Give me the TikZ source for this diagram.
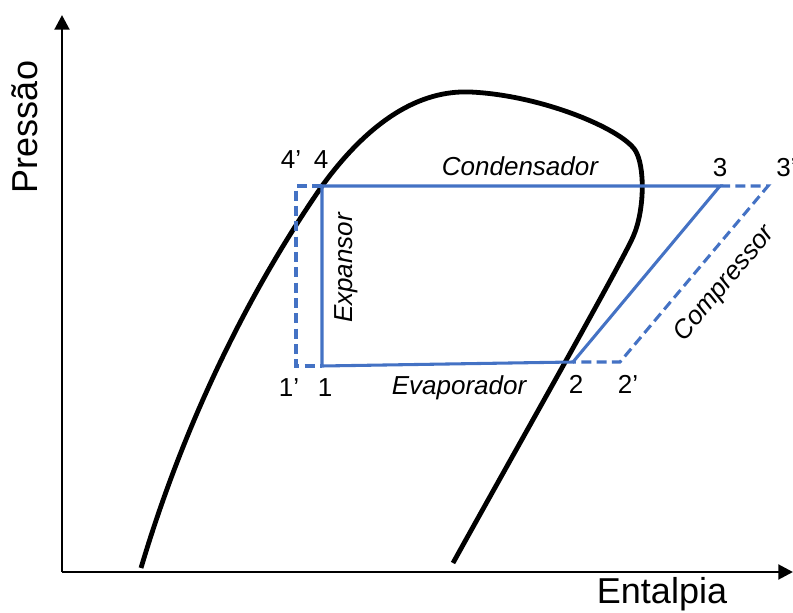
\documentclass[tikz,border=0pt]{standalone}
\usepackage{fontspec}
\setmainfont{Liberation Sans}
\usetikzlibrary{arrows.meta}
\definecolor{cycblue}{HTML}{4472C4}
\tikzset{
  axisline/.style={line width=2.2pt,-{Triangle[length=11pt,width=11pt]}},
  dome/.style={line width=3.6pt,line join=round},
  solidcyc/.style={draw=cycblue,line width=2.3pt,line join=miter},
  dashcyc/.style={draw=cycblue,line width=2.3pt,dash pattern=on 7.5pt off 4pt},
  pointlabel/.style={font=\fontsize{19.5}{22}\selectfont,inner sep=0pt},
  proclabel/.style={font=\fontsize{19.5}{22}\selectfont\itshape,inner sep=0pt},
  axislabel/.style={font=\fontsize{27}{30}\selectfont,inner sep=0pt}
}
\begin{document}
\begin{tikzpicture}[x=0.75pt,y=-0.75pt]
\useasboundingbox (0,0) rectangle (793,613);
% axes
\coordinate (o) at (62,572);
\coordinate (ytip) at (62,15);
\coordinate (xtip) at (793,572);
\draw[axisline] (o) -- (ytip);
\draw[axisline] (o) -- (xtip);
\node[axislabel,rotate=90] (ylab) at (25,127) {Pressão};
\node[axislabel] (xlab) at (662,594) {Entalpia};
% dome
\draw[dome] (141,568) .. controls (185,420) and (250,290) .. (322,186)
  .. controls (370,120) and (420,90) .. (470,92)
  .. controls (540,95) and (620,128) .. (635,150)
  .. controls (645,165) and (645,210) .. (633,237)
  .. controls (620,266) and (510,460) .. (453,563);
% cycle points
\coordinate (p4) at (322,186);
\coordinate (p4p) at (296,186);
\coordinate (p1) at (322,366);
\coordinate (p1p) at (296,366);
\coordinate (p2) at (573,362);
\coordinate (p2p) at (620,362);
\coordinate (p3) at (720,186);
\coordinate (p3p) at (768,186);
% dashed cycle
\draw[dashcyc] (p4) -- (p4p) -- (p1p) -- (p1);
\draw[dashcyc] (p3) -- (p3p) -- (p2p) -- (p2);
% solid cycle
\draw[solidcyc] (p1) -- (p4) -- (p3) -- (p2) -- cycle;
% point labels
\node[pointlabel] (l4p) at (291,160) {4’};
\node[pointlabel] (l4) at (321,160) {4};
\node[pointlabel] (l1p) at (289,388) {1’};
\node[pointlabel] (l1) at (325,388) {1};
\node[pointlabel] (l2) at (576,384) {2};
\node[pointlabel] (l2p) at (628,384) {2’};
\node[pointlabel] (l3) at (720,168) {3};
\node[pointlabel,anchor=west] (l3p) at (776,168) {3’};
% process labels
\node[proclabel] (cond) at (520,166) {Condensador};
\node[proclabel] (evap) at (459,388) {Evaporador};
\node[proclabel,rotate=90] (expa) at (346,268) {Expansor};
\node[proclabel,rotate=50] (comp) at (725,284) {Compressor};
\end{tikzpicture}
\end{document}
